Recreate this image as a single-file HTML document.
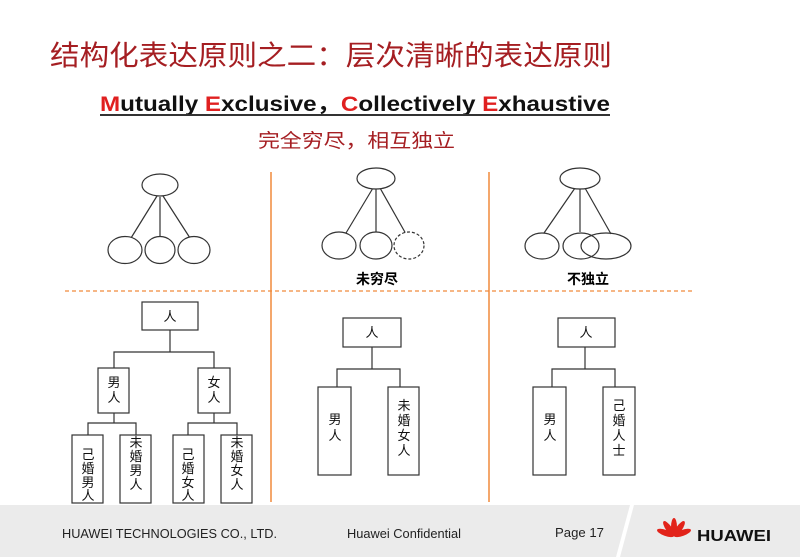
<!DOCTYPE html>
<html><head><meta charset="utf-8"><style>
html,body{margin:0;padding:0;background:#fff;}
svg{display:block;}
text{font-family:"Liberation Sans","Noto Sans CJK SC",sans-serif;}
</style></head><body>
<svg width="800" height="557" viewBox="0 0 800 557" xmlns="http://www.w3.org/2000/svg">
<!-- Title -->
<text x="50" y="65" font-size="28" fill="#a51e22" textLength="562" lengthAdjust="spacingAndGlyphs">结构化表达原则之二：层次清晰的表达原则</text>
<text x="100" y="111" font-size="21" font-weight="bold" fill="#111" textLength="510" lengthAdjust="spacingAndGlyphs"><tspan fill="#e02020">M</tspan>utually <tspan fill="#e02020">E</tspan>xclusive，<tspan fill="#e02020">C</tspan>ollectively <tspan fill="#e02020">E</tspan>xhaustive</text>
<line x1="100" y1="115" x2="610" y2="115" stroke="#333" stroke-width="2"/>
<text x="258" y="147" font-size="19" fill="#a51e22" textLength="197" lengthAdjust="spacingAndGlyphs">完全穷尽，相互独立</text>

<!-- separators -->
<line x1="271" y1="172" x2="271" y2="502" stroke="#f08a3c" stroke-width="1.5"/>
<line x1="489" y1="172" x2="489" y2="502" stroke="#f08a3c" stroke-width="1.5"/>
<line x1="65" y1="291" x2="695" y2="291" stroke="#f08a3c" stroke-width="1.2" stroke-dasharray="4,3"/>

<g fill="#fff" stroke="#333" stroke-width="1.2">
<!-- D1 -->
<line x1="157" y1="196" x2="131" y2="238"/><line x1="160" y1="197" x2="160" y2="237"/><line x1="163" y1="196" x2="190" y2="238"/>
<ellipse cx="160" cy="185" rx="18" ry="11"/>
<ellipse cx="125" cy="250" rx="17" ry="13.5"/><ellipse cx="160" cy="250" rx="15" ry="13.5"/><ellipse cx="194" cy="250" rx="16" ry="13.5"/>
<!-- D2 -->
<line x1="373" y1="188" x2="346" y2="233"/><line x1="376" y1="189" x2="376" y2="232"/><line x1="380" y1="188" x2="406" y2="234"/>
<ellipse cx="376" cy="178.5" rx="19" ry="10.5"/>
<ellipse cx="339" cy="245.5" rx="17" ry="13.5"/><ellipse cx="376" cy="245.5" rx="16" ry="13.5"/>
<ellipse cx="409" cy="245.5" rx="15" ry="13.5" stroke-dasharray="3,2"/>
<!-- D3 -->
<line x1="575" y1="188" x2="544" y2="233"/><line x1="580" y1="189" x2="580" y2="232"/><line x1="585" y1="188" x2="611" y2="234"/>
<ellipse cx="580" cy="178.5" rx="20" ry="10.5"/>
<ellipse cx="542" cy="246" rx="17" ry="13"/>
<ellipse cx="581" cy="246" rx="18" ry="13" fill="none"/>
<ellipse cx="606" cy="246" rx="25" ry="13" fill="none"/>
</g>
<text x="377" y="284" font-size="14" font-weight="bold" text-anchor="middle" fill="#000">未穷尽</text>
<text x="588" y="284" font-size="14" font-weight="bold" text-anchor="middle" fill="#000">不独立</text>

<!-- Tree 1 -->
<g fill="none" stroke="#333" stroke-width="1.2">
<polyline points="170,330 170,352"/><polyline points="114,368 114,352 214,352 214,368"/>
<polyline points="114,413 114,423"/><polyline points="88,435 88,423 136,423 136,435"/>
<polyline points="214,413 214,423"/><polyline points="188,435 188,423 237,423 237,435"/>
<rect x="142" y="302" width="56" height="28" fill="#fff"/>
<rect x="98" y="368" width="31" height="45" fill="#fff"/><rect x="198" y="368" width="32" height="45" fill="#fff"/>
<rect x="72" y="435" width="31" height="68" fill="#fff"/><rect x="120" y="435" width="31" height="68" fill="#fff"/>
<rect x="173" y="435" width="31" height="68" fill="#fff"/><rect x="221" y="435" width="31" height="68" fill="#fff"/>
<!-- Tree 2 -->
<polyline points="372,347 372,369"/><polyline points="337,387 337,369 400,369 400,387"/>
<rect x="343" y="318" width="58" height="29" fill="#fff"/>
<rect x="318" y="387" width="33" height="88" fill="#fff"/><rect x="388" y="387" width="31" height="88" fill="#fff"/>
<!-- Tree 3 -->
<polyline points="585,347 585,369"/><polyline points="552,387 552,369 615,369 615,387"/>
<rect x="558" y="318" width="57" height="29" fill="#fff"/>
<rect x="533" y="387" width="33" height="88" fill="#fff"/><rect x="603" y="387" width="32" height="88" fill="#fff"/>
</g>
<g font-size="13" fill="#111" text-anchor="middle">
<text x="170" y="321">人</text>
<text x="114" y="387">男</text><text x="114" y="402">人</text>
<text x="214" y="387">女</text><text x="214" y="402">人</text>
<text x="88" y="459">己</text><text x="88" y="473">婚</text><text x="88" y="487">男</text><text x="88" y="500">人</text>
<text x="136" y="447">未</text><text x="136" y="461">婚</text><text x="136" y="475">男</text><text x="136" y="489">人</text>
<text x="188" y="459">己</text><text x="188" y="473">婚</text><text x="188" y="487">女</text><text x="188" y="500">人</text>
<text x="237" y="447">未</text><text x="237" y="461">婚</text><text x="237" y="475">女</text><text x="237" y="489">人</text>
<text x="372" y="337">人</text>
<text x="335" y="424">男</text><text x="335" y="440">人</text>
<text x="404" y="410">未</text><text x="404" y="425">婚</text><text x="404" y="440">女</text><text x="404" y="455">人</text>
<text x="586" y="337">人</text>
<text x="550" y="424">男</text><text x="550" y="440">人</text>
<text x="619" y="410">己</text><text x="619" y="425">婚</text><text x="619" y="440">人</text><text x="619" y="455">士</text>
</g>

<!-- Footer -->
<rect x="0" y="505" width="800" height="52" fill="#ebebeb"/>
<polygon points="630,505 634,505 620,557 616,557" fill="#fff"/>
<g font-size="13" fill="#222">
<text x="62" y="538" textLength="215" lengthAdjust="spacingAndGlyphs">HUAWEI TECHNOLOGIES CO., LTD.</text>
<text x="347" y="538" textLength="114" lengthAdjust="spacingAndGlyphs">Huawei Confidential</text>
<text x="555" y="537" textLength="49" lengthAdjust="spacingAndGlyphs">Page 17</text>
</g>
<g fill="#e2231a" transform="translate(674,536)">
<ellipse cx="0" cy="-9" rx="3" ry="9"/>
<ellipse cx="0" cy="-9" rx="3" ry="9" transform="rotate(-35 0 0)"/>
<ellipse cx="0" cy="-9" rx="3" ry="9" transform="rotate(35 0 0)"/>
<ellipse cx="0" cy="-9" rx="3" ry="9" transform="rotate(-70 0 0)"/>
<ellipse cx="0" cy="-9" rx="3" ry="9" transform="rotate(70 0 0)"/>
</g>
<text x="697" y="541" font-size="16" font-weight="bold" fill="#111" textLength="74" lengthAdjust="spacingAndGlyphs">HUAWEI</text>
</svg>
</body></html>
